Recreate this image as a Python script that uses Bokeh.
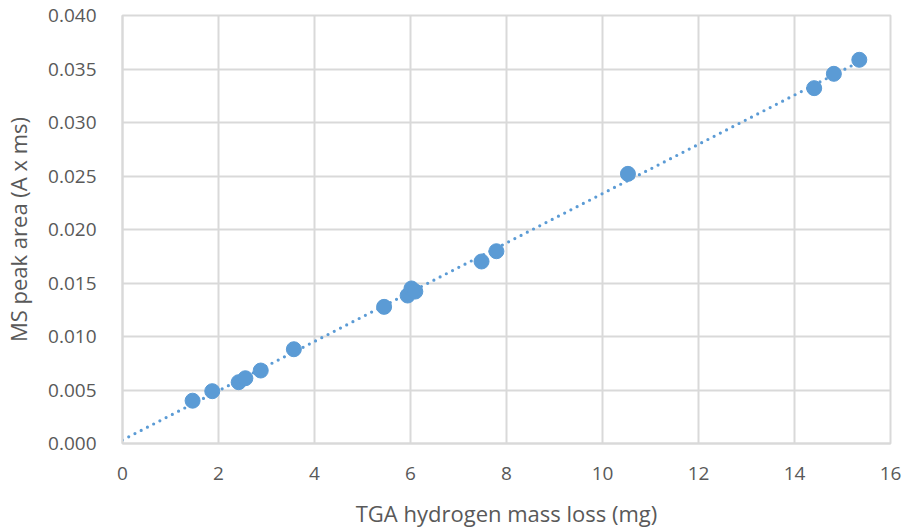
import numpy as np
from bokeh.plotting import figure
from bokeh.models import Range1d, FixedTicker, PrintfTickFormatter, ColumnDataSource
from bokeh.embed import file_html
from bokeh.resources import INLINE

# data
tga_mass_loss = [1.46, 1.87, 2.42, 2.56, 2.88, 3.57, 5.45, 5.94, 6.02, 6.10, 7.48, 7.79, 10.53, 14.41, 14.82, 15.35]
ms_peak_area = [0.0040, 0.00489, 0.00573, 0.0061, 0.00682, 0.00881, 0.01277, 0.01383, 0.01449, 0.0142,
                0.01701, 0.01797, 0.0252, 0.03321, 0.03455, 0.03586]
x_ticks = [0, 2, 4, 6, 8, 10, 12, 14, 16]
y_ticks = [0.000, 0.005, 0.010, 0.015, 0.020, 0.025, 0.030, 0.035, 0.040]

FONT = "Open Sans"
TXT = "#595959"
GRID = "#D9D9D9"
BLUE = "#5B9BD5"

p = figure(width=908, height=530, output_backend="svg", toolbar_location=None,
           x_range=Range1d(0, 16), y_range=Range1d(0, 0.040),
           min_border_left=121, min_border_right=18, min_border_top=15, min_border_bottom=87)
p.background_fill_color = "white"
p.border_fill_color = "white"
p.outline_line_color = GRID
p.outline_line_width = 2

# linear trendline (least squares), drawn from 0 to the largest x
slope, intercept = np.polyfit(tga_mass_loss, ms_peak_area, 1)
tx = [0, max(tga_mass_loss)]
ty = [intercept + slope * t for t in tx]
p.line(tx, ty, line_color=BLUE, line_width=3.2, line_dash="0 7", line_cap="round")

src = ColumnDataSource(dict(x=tga_mass_loss, y=ms_peak_area))
p.scatter("x", "y", source=src, size=15, fill_color=BLUE, line_color=BLUE)

p.xaxis.ticker = FixedTicker(ticks=x_ticks)
p.yaxis.ticker = FixedTicker(ticks=y_ticks)
p.yaxis.formatter = PrintfTickFormatter(format="%.3f")

for ax in (p.xaxis, p.yaxis):
    ax.axis_line_color = GRID
    ax.axis_line_width = 2
    ax.major_tick_line_color = None
    ax.minor_tick_line_color = None
    ax.major_label_text_font = FONT
    ax.major_label_text_font_size = "19px"
    ax.major_label_text_color = TXT
    ax.axis_label_text_font = FONT
    ax.axis_label_text_font_size = "22px"
    ax.axis_label_text_color = TXT
    ax.axis_label_text_font_style = "normal"

p.xaxis.major_label_standoff = 17
p.yaxis.major_label_standoff = 20
p.xaxis.axis_label = "TGA hydrogen mass loss (mg)"
p.yaxis.axis_label = "MS peak area (A x ms)"
p.xaxis.axis_label_standoff = 15
p.yaxis.axis_label_standoff = 12

p.xgrid.grid_line_color = GRID
p.ygrid.grid_line_color = GRID
p.xgrid.grid_line_width = 2
p.ygrid.grid_line_width = 2

open("out.html", "w").write(file_html(p, INLINE))
